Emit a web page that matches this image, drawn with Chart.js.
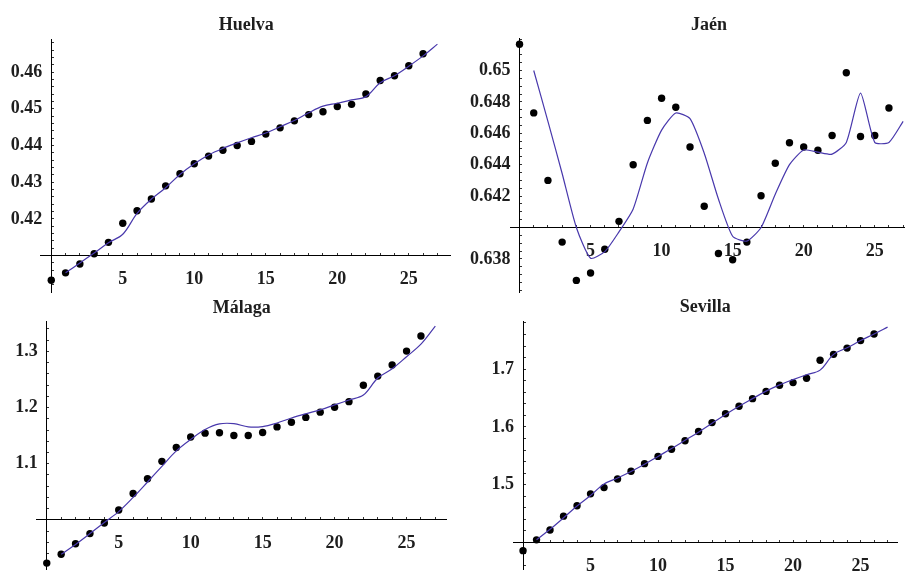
<!DOCTYPE html>
<html>
<head>
<meta charset="utf-8">
<script src="https://cdn.jsdelivr.net/npm/chart.js@4"></script>
<style>
  body { margin: 0; background: #fff; }
  #wrap { position: relative; width: 908px; height: 573px; overflow: hidden; }
  canvas { position: absolute; }
</style>
</head>
<body>
<div id="wrap">
  <canvas id="huelva" width="454" height="296" style="left:0;top:0"></canvas>
  <canvas id="jaen" width="454" height="296" style="left:454px;top:0"></canvas>
  <canvas id="malaga" width="454" height="283" style="left:0;top:290px"></canvas>
  <canvas id="sevilla" width="454" height="283" style="left:454px;top:290px"></canvas>
</div>
<script>
// observed points at x = 0..26, fitted curve at x = 1..27
const obsX = [0, 1, 2, 3, 4, 5, 6, 7, 8, 9, 10, 11, 12, 13, 14, 15, 16, 17, 18, 19, 20, 21, 22, 23, 24, 25, 26];
const fitX = [1, 2, 3, 4, 5, 6, 7, 8, 9, 10, 11, 12, 13, 14, 15, 16, 17, 18, 19, 20, 21, 22, 23, 24, 25, 26, 27];
const xTickLabels = [5, 10, 15, 20, 25];

const huelvaObs = [0.4033, 0.4053, 0.4077, 0.4105, 0.4136, 0.4188, 0.4222, 0.4254, 0.4290, 0.4323, 0.4350, 0.4371, 0.4387, 0.4400, 0.4411, 0.4431, 0.4448, 0.4467, 0.4484, 0.4492, 0.4506, 0.4512, 0.4540, 0.4577, 0.4590, 0.4617, 0.4650];
const huelvaFit = [0.4053, 0.4080, 0.4107, 0.4135, 0.4158, 0.4215, 0.4254, 0.4285, 0.4321, 0.4350, 0.4374, 0.4392, 0.4407, 0.4421, 0.4434, 0.4451, 0.4468, 0.4489, 0.4507, 0.4515, 0.4524, 0.4533, 0.4571, 0.4590, 0.4616, 0.4644, 0.4676];
const huelvaTicks = ['0.42', '0.43', '0.44', '0.45', '0.46'];

const jaenObs = [0.65167, 0.6473, 0.6430, 0.63907, 0.63663, 0.63710, 0.63861, 0.64039, 0.6440, 0.64682, 0.64823, 0.64766, 0.64513, 0.64135, 0.63834, 0.63794, 0.63907, 0.64202, 0.64409, 0.64540, 0.64513, 0.64492, 0.64586, 0.64986, 0.64580, 0.64586, 0.64761];
const jaenFit = [0.6500, 0.64676, 0.64344, 0.6400, 0.63804, 0.63846, 0.63972, 0.64118, 0.64411, 0.64620, 0.64729, 0.64693, 0.64473, 0.64181, 0.63944, 0.63913, 0.6400, 0.64212, 0.6440, 0.64494, 0.6448, 0.64467, 0.64542, 0.64856, 0.64542, 0.64542, 0.64676];
const jaenTicks = ['0.638', '0.642', '0.644', '0.646', '0.648', '0.65'];

const malagaObs = [0.9228, 0.9386, 0.9573, 0.9754, 0.9942, 1.0175, 1.0468, 1.0731, 1.1041, 1.1287, 1.1474, 1.1544, 1.1550, 1.1503, 1.1503, 1.1556, 1.1655, 1.1737, 1.1825, 1.1918, 1.2006, 1.2105, 1.2398, 1.2561, 1.2760, 1.3006, 1.3275];
const malagaFit = [0.9386, 0.9561, 0.9754, 0.9953, 1.0146, 1.0398, 1.0673, 1.0953, 1.1228, 1.1433, 1.1608, 1.1708, 1.1713, 1.1655, 1.1661, 1.1725, 1.1813, 1.1889, 1.1959, 1.2047, 1.2135, 1.2222, 1.2526, 1.2690, 1.2906, 1.3129, 1.3450];
const malagaTicks = ['1.1', '1.2', '1.3'];

const sevillaObs = [1.3858, 1.4045, 1.4216, 1.4455, 1.4636, 1.4841, 1.4949, 1.5097, 1.5233, 1.5364, 1.5489, 1.5614, 1.5761, 1.5920, 1.6074, 1.6227, 1.6358, 1.6489, 1.6614, 1.6722, 1.6767, 1.6841, 1.7153, 1.7256, 1.7364, 1.7494, 1.7608];
const sevillaFit = [1.4045, 1.4227, 1.4426, 1.4631, 1.4813, 1.5011, 1.5114, 1.5227, 1.5352, 1.5489, 1.5625, 1.5767, 1.5909, 1.6063, 1.6216, 1.6358, 1.6489, 1.6619, 1.6727, 1.6818, 1.6903, 1.6983, 1.7256, 1.7369, 1.7494, 1.7608, 1.7727];
const sevillaTicks = ['1.5', '1.6', '1.7'];

const FONT = "'Liberation Serif', 'Times New Roman', serif";
const LINE_COLOR = 'rgb(72, 56, 172)';

function zeroPadding(scale) {
    scale.paddingTop = 0;
    scale.paddingBottom = 0;
    scale.paddingLeft = 0;
    scale.paddingRight = 0;
}

function makePanel(id, title, obs, fit, yLabels, p) {
    const ctx = document.getElementById(id);
    new Chart(ctx, {
        type: 'scatter',
        data: {
            datasets: [
                {
                    label: 'fit',
                    data: fitX.map((x, i) => ({ x: x, y: fit[i] })),
                    showLine: true,
                    borderColor: LINE_COLOR,
                    borderWidth: 1.2,
                    pointRadius: 0,
                    tension: p.tension,
                    clip: false,
                },
                {
                    label: 'obs',
                    data: obsX.map((x, i) => ({ x: x, y: obs[i] })),
                    backgroundColor: '#000',
                    borderColor: '#000',
                    borderWidth: 0,
                    pointRadius: 3.7,
                    clip: false,
                },
            ],
        },
        options: {
            responsive: false,
            animation: false,
            events: [],
            layout: { padding: { left: p.padLeft, right: p.padRight, top: 0, bottom: 0 } },
            plugins: {
                legend: { display: false },
                tooltip: { enabled: false },
                title: {
                    display: true,
                    text: title,
                    color: '#1e1e1e',
                    font: { family: FONT, size: 18, weight: 'bold' },
                    padding: { top: p.titleTop, bottom: p.titleBottom },
                },
            },
            scales: {
                x: {
                    type: 'linear',
                    min: p.xMin,
                    max: p.xMax,
                    position: { y: p.cross },
                    afterFit: zeroPadding,
                    border: { display: true, color: '#000', width: 1 },
                    grid: { display: true, drawOnChartArea: false, drawTicks: true, tickLength: -3, color: '#333' },
                    ticks: {
                        stepSize: 1,
                        autoSkip: false,
                        maxRotation: 0,
                        includeBounds: false,
                        maxTicksLimit: 1000,
                        padding: 16,
                        color: '#1e1e1e',
                        font: { family: FONT, size: 18, weight: 'bold' },
                        callback: (v) => xTickLabels.includes(Math.round(v)) && Math.abs(v - Math.round(v)) < 1e-9 ? String(Math.round(v)) : '',
                    },
                },
                y: {
                    type: 'linear',
                    min: p.yMin,
                    max: p.yMax,
                    position: { x: 0 },
                    afterFit: zeroPadding,
                    border: { display: true, color: '#000', width: 1 },
                    grid: { display: true, drawOnChartArea: false, drawTicks: true, tickLength: -3, color: '#333' },
                    ticks: {
                        stepSize: p.yStep,
                        autoSkip: false,
                        includeBounds: false,
                        maxTicksLimit: 1000,
                        color: '#1e1e1e',
                        font: { family: FONT, size: 18, weight: 'bold' },
                        // padding is ignored for axes placed at a value, so trailing spaces keep the gap
                        callback: (v) => {
                            const s = String(parseFloat(v.toFixed(4)));
                            return yLabels.includes(s) ? s + '  ' : '';
                        },
                    },
                },
            },
        },
    });
}

document.addEventListener('DOMContentLoaded', () => {
    makePanel('huelva', 'Huelva', huelvaObs, huelvaFit, huelvaTicks, {
        padLeft: 40.6, padRight: 2, titleTop: 14.5, titleBottom: 2.9,
        xMin: -0.745, xMax: 27.88, yMin: 0.40008, yMax: 0.4690, cross: 0.41, yStep: 0.002, tension: 0.35,
    });
    makePanel('jaen', 'Jaén', jaenObs, jaenFit, jaenTicks, {
        padLeft: 56, padRight: 0, titleTop: 14.5, titleBottom: 1.9,
        xMin: -0.67, xMax: 27.06, yMin: 0.63589, yMax: 0.65207, cross: 0.640, yStep: 0.0005, tension: 0.2,
    });
    makePanel('malaga', 'Málaga', malagaObs, malagaFit, malagaTicks, {
        padLeft: 36.7, padRight: 7.3, titleTop: 7.2, titleBottom: 2.9,
        xMin: -0.7, xMax: 27.79, yMin: 0.9123, yMax: 1.353, cross: 1.0, yStep: 0.02, tension: 0.35,
    });
    makePanel('sevilla', 'Sevilla', sevillaObs, sevillaFit, sevillaTicks, {
        padLeft: 59.3, padRight: 10.7, titleTop: 6.2, titleBottom: 3.9,
        xMin: -0.72, xMax: 27.72, yMin: 1.354, yMax: 1.7821, cross: 1.4, yStep: 0.02, tension: 0.35,
    });
});
</script>
</body>
</html>
